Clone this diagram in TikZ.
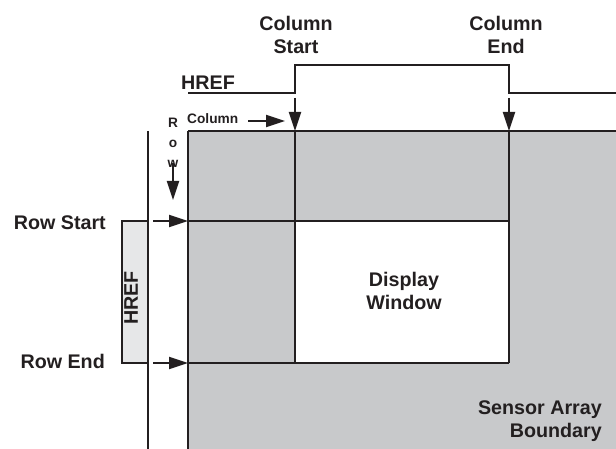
\documentclass[tikz,border=0pt]{standalone}
\usepackage{fontspec}
\setmainfont{Liberation Sans}
\usepackage{xcolor}
\usetikzlibrary{arrows.meta,positioning,calc}
\definecolor{sensorgray}{RGB}{200,201,203}
\definecolor{hrefgray}{RGB}{230,231,232}
\definecolor{inkdark}{RGB}{35,31,32}
\pgfkeys{tikz/mylabel/.style={font=\fontsize{19.7}{23}\selectfont\bfseries,text=inkdark,align=center,inner sep=0pt}}
\pgfkeys{tikz/mysmall/.style={font=\fontsize{13.7}{20}\selectfont\bfseries,text=inkdark,align=center,inner sep=0pt}}
\pgfkeys{tikz/myline/.style={draw=inkdark,line width=2.2pt}}
\pgfkeys{tikz/myarrow/.style={myline,-{Triangle[length=19pt,width=12pt]}}}
\begin{document}
\begin{tikzpicture}[x=1pt,y=-1pt]
    \useasboundingbox (0,0) rectangle (616,449);
    \fill[sensorgray] (188,131) rectangle (616,449);
    \fill[white] (295,221) rectangle (509,363);
    \coordinate (tl) at (188,131);
    \coordinate (tr) at (616,131);
    \coordinate (bl) at (188,449);
    \coordinate (cs) at (295,131);
    \coordinate (ce) at (509,131);
    \coordinate (rs) at (188,221);
    \coordinate (re) at (188,363);
    \coordinate (wr) at (509,221);
    \coordinate (wb) at (509,363);
    \coordinate (ws) at (295,363);
    \draw[myline] (tl) -- (tr);
    \draw[myline] (tl) -- (bl);
    \draw[myline] (cs) -- (ws);
    \draw[myline] (ce) -- (wb);
    \draw[myline] (rs) -- (wr);
    \draw[myline] (re) -- (wb);
    \draw[myline] (188,93) -- (295,93) -- (295,65) -- (509,65) -- (509,93) -- (616,93);
    \draw[myline,fill=hrefgray] (148,221) -- (122,221) -- (122,363) -- (148,363);
    \draw[myline] (148,131) -- (148,449);
    \draw[myarrow] (295,98) -- (cs);
    \draw[myarrow] (509,98) -- (ce);
    \draw[myarrow] (248,121) -- (285,121);
    \draw[myarrow] (173,163) -- (173,200);
    \draw[myarrow] (153,221) -- (rs);
    \draw[myarrow] (153,363) -- (re);
    \node[mylabel] (colstart) at (296,35) {Column\\Start};
    \node[mylabel] (colend) at (506,35) {Column\\End};
    \node[mylabel] (hreftop) at (208,83) {HREF};
    \node[mylabel,rotate=90] (hrefside) at (131,298) {HREF};
    \node[mylabel,anchor=east] (rowstart) at (106,223) {Row Start};
    \node[mylabel,anchor=east] (rowend) at (105,361) {Row End};
    \node[mylabel] (window) at (404,291) {Display\\Window};
    \node[mylabel,anchor=east,align=right] (sensor) at (602,421) {Sensor Array\\Boundary};
    \node[mysmall,anchor=west] (coltag) at (187,119) {Column};
    \node[mysmall] (rowtag) at (173,143) {R\\o\\w};
\end{tikzpicture}
\end{document}
